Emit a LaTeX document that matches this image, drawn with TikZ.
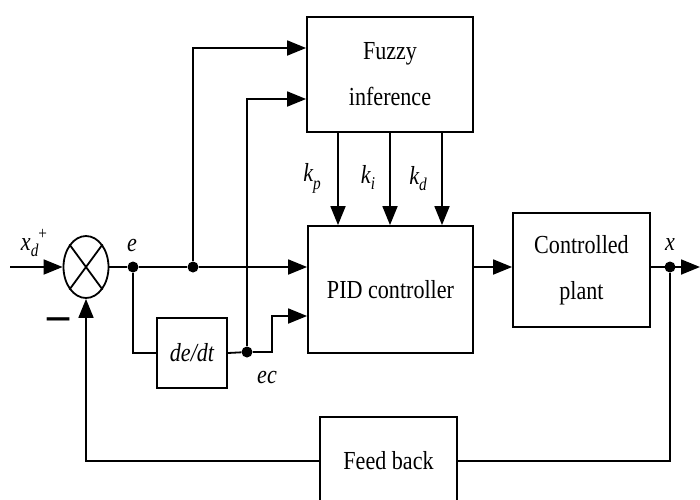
\documentclass[tikz,border=0pt]{standalone}
\usepackage{fontspec}
\setmainfont{Liberation Serif}
\usetikzlibrary{arrows.meta,shapes.geometric}
\newcommand{\sq}[1]{\scalebox{0.85}[1]{#1}}
\newcommand{\smallidx}[1]{{\fontsize{18}{18}\selectfont #1}}
\begin{document}
\begin{tikzpicture}[x=1pt,y=-1pt,
  blk/.style={draw, line width=1.8pt, inner sep=0pt, align=center,
    font=\fontsize{26}{46}\selectfont},
  wire/.style={line width=1.8pt},
  arr/.style={wire, -{Triangle[length=19pt,width=15pt]}},
  jdot/.style={circle, fill, inner sep=0pt, minimum size=11pt},
  lbl/.style={inner sep=0pt, font=\fontsize{26}{30}\selectfont\itshape}]
\useasboundingbox (0,0) rectangle (700,499);

% blocks
\node[blk, minimum width=166pt, minimum height=115pt] (fuzzy) at (390,74.5) {\sq{Fuzzy}\\\sq{inference}};
\node[blk, minimum width=165pt, minimum height=127pt] (pid) at (390.5,289.5) {\sq{PID controller}};
\node[blk, minimum width=137pt, minimum height=114pt] (plant) at (581.5,270) {\sq{Controlled}\\\sq{plant}};
\node[blk, minimum width=70pt, minimum height=70pt, font=\fontsize{26}{30}\selectfont\itshape] (dedt) at (192,353) {\sq{de/dt}};
\node[blk, minimum width=137pt, minimum height=88pt] (feed) at (388.5,461) {\sq{Feed back}};
\node[draw, ellipse, line width=1.8pt, minimum width=45pt, minimum height=62pt, inner sep=0pt] (sum) at (86,267) {};
\draw[line width=1.8pt] (sum.north east) -- (sum.south west) (sum.north west) -- (sum.south east);

% junctions
\node[jdot] (e) at (133,267) {};
\node[jdot] (j1) at (193,267) {};
\node[jdot] (ec) at (247,352) {};
\node[jdot] (xo) at (670,267) {};
\coordinate (in) at (10,267);
\coordinate (out) at (700,267);

% connectors
\draw[arr] (in) -- (sum.west);
\draw[arr] (sum.east) -- (e) -- (j1) -- (e -| pid.west);
\draw[arr] (j1) |- ([yshift=26.5pt]fuzzy.west);
\draw[arr] (ec) |- ([yshift=-24.5pt]fuzzy.west);
\draw[wire] (e) |- (dedt.west);
\draw[wire] (dedt.east) -- (ec);
\draw[arr] (ec) -- ++(25,0) |- ([yshift=-26.5pt]pid.west);
\draw[arr] ([xshift=-52pt]fuzzy.south) -- ([xshift=-52.5pt]pid.north);
\draw[arr] (fuzzy.south) -- (fuzzy.south |- pid.north);
\draw[arr] ([xshift=52pt]fuzzy.south) -- ([xshift=51.5pt]pid.north);
\draw[arr] (pid.east |- xo) -- (plant.west |- xo);
\draw[arr] (plant.east |- xo) -- (out);
\draw[wire] (xo) |- (feed.east);
\draw[arr] (feed.west) -| (sum.south);

% labels
\node[lbl] (le) at (132,245) {\sq{e}};
\node[lbl] (lxd) at (34,243) {\sq{x\raisebox{-6pt}{\smallidx{d}}\raisebox{11pt}{\smallidx{\upshape +}}}};
\node[lbl] (lkp) at (312,178) {\sq{k\raisebox{-8pt}{\smallidx{p}}}};
\node[lbl] (lki) at (368,177) {\sq{k\raisebox{-6pt}{\smallidx{i}}}};
\node[lbl] (lkd) at (418,179) {\sq{k\raisebox{-6pt}{\smallidx{d}}}};
\node[lbl] (lec) at (267,377) {\sq{ec}};
\node[lbl] (lx) at (670,245) {\sq{x}};
\node[inner sep=0pt] (minus) at (59,326) {\scalebox{1.7}[2.5]{\fontsize{26}{30}\selectfont –}};
\end{tikzpicture}
\end{document}
